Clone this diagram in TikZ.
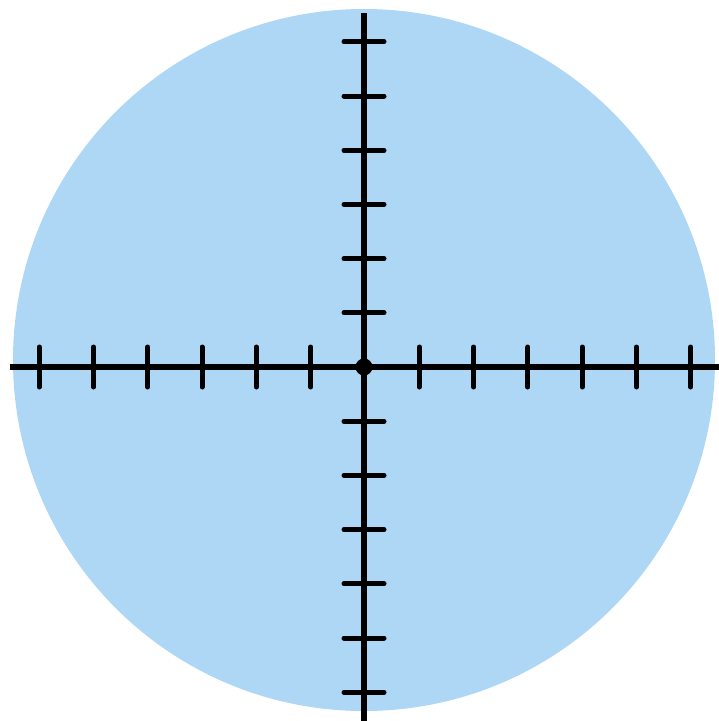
\documentclass[tikz,border=0pt]{standalone}
\definecolor{disc}{RGB}{174,215,246}
\begin{document}
\begin{tikzpicture}[x=1pt,y=-1pt,
  axis/.style={line width=5.5pt,black},
  tick/.style={line width=5pt,black,line cap=round},
  centerdot/.style={circle,fill=black,inner sep=0pt,minimum size=17pt}]
\useasboundingbox (0,0) rectangle (719,721);
\fill[disc] (364,360) circle (351);
\coordinate (L) at (10,367);
\coordinate (R) at (719,367);
\coordinate (T) at (364,13);
\coordinate (B) at (364,721);
\draw[axis] (L) -- (R);
\draw[axis] (T) -- (B);
\foreach \i in {-6,...,-1,1,2,...,6}{
  \draw[tick] ({365+54.3*\i},347) -- ({365+54.3*\i},387);
  \draw[tick] (344,{367+54.2*\i}) -- (384,{367+54.2*\i});
}
\node[centerdot] (O) at (364,367) {};
\end{tikzpicture}
\end{document}
